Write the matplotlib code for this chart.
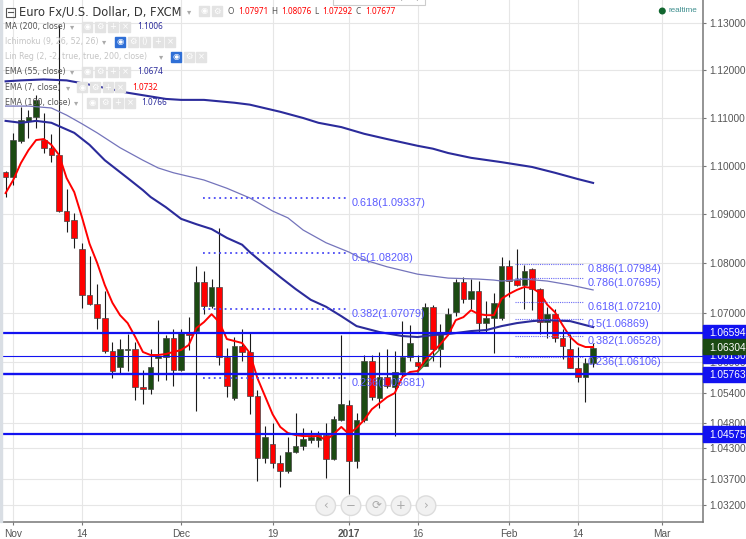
# Euro Fx / U.S. Dollar daily candles with EMAs, fib levels and price lines
import matplotlib
matplotlib.use("Agg")
import matplotlib.pyplot as plt
from matplotlib.patches import Rectangle, Circle
from matplotlib.ticker import NullLocator

# one row per trading day, index is the candle position
opens = [1.0988, 1.0977, 1.1052, 1.1094, 1.1102, 1.1054, 1.1038, 1.1023, 1.0907, 1.0889,
         1.0829, 1.0736, 1.0718, 1.0689, 1.0623, 1.0591, 1.0625, 1.0627, 1.0551, 1.0547,
         1.0609, 1.0611, 1.0649, 1.0585, 1.0659, 1.0663, 1.0762, 1.0714, 1.0752, 1.0611,
         1.0529, 1.0633, 1.0621, 1.0533, 1.0411, 1.0439, 1.0401, 1.0385, 1.0423, 1.0435,
         1.0446, 1.0446, 1.0456, 1.0409, 1.0486, 1.0515, 1.0405, 1.0486, 1.0603, 1.0529,
         1.0571, 1.0551, 1.0581, 1.0611, 1.0601, 1.0593, 1.0712, 1.0627, 1.0661, 1.0701,
         1.0762, 1.0728, 1.0744, 1.0679, 1.0689, 1.0689, 1.0795, 1.0766, 1.0756, 1.0789,
         1.0748, 1.0681, 1.0697, 1.0649, 1.0627, 1.0589, 1.0571, 1.0599]
highs = [1.0990, 1.1069, 1.1123, 1.1117, 1.1149, 1.1111, 1.1067, 1.1296, 1.0952, 1.0903,
         1.0842, 1.0815, 1.0758, 1.0744, 1.0641, 1.0647, 1.0657, 1.0641, 1.0585, 1.0627,
         1.0685, 1.0655, 1.0667, 1.0667, 1.0691, 1.0795, 1.0785, 1.0768, 1.0872, 1.0629,
         1.0651, 1.0667, 1.0661, 1.0545, 1.0474, 1.0480, 1.0417, 1.0452, 1.0499, 1.0470,
         1.0466, 1.0464, 1.0480, 1.0494, 1.0655, 1.0525, 1.0499, 1.0615, 1.0615, 1.0621,
         1.0627, 1.0623, 1.0683, 1.0675, 1.0615, 1.0720, 1.0716, 1.0677, 1.0710, 1.0768,
         1.0772, 1.0768, 1.0764, 1.0724, 1.0740, 1.0813, 1.0807, 1.0829, 1.0797, 1.0791,
         1.0750, 1.0712, 1.0707, 1.0667, 1.0657, 1.0631, 1.0609, 1.0639]
lows = [1.0936, 1.0961, 1.1048, 1.1058, 1.1079, 1.1027, 1.1008, 1.0905, 1.0864, 1.0831,
        1.0710, 1.0716, 1.0667, 1.0619, 1.0569, 1.0577, 1.0583, 1.0525, 1.0517, 1.0537,
        1.0563, 1.0565, 1.0553, 1.0583, 1.0625, 1.0503, 1.0697, 1.0710, 1.0595, 1.0531,
        1.0525, 1.0603, 1.0497, 1.0366, 1.0401, 1.0391, 1.0354, 1.0381, 1.0421, 1.0427,
        1.0441, 1.0433, 1.0372, 1.0407, 1.0484, 1.0340, 1.0391, 1.0482, 1.0525, 1.0509,
        1.0549, 1.0454, 1.0573, 1.0603, 1.0581, 1.0593, 1.0603, 1.0591, 1.0659, 1.0693,
        1.0720, 1.0707, 1.0659, 1.0659, 1.0619, 1.0685, 1.0732, 1.0754, 1.0707, 1.0705,
        1.0657, 1.0649, 1.0641, 1.0607, 1.0589, 1.0561, 1.0521, 1.0591]
closes = [1.0977, 1.1054, 1.1096, 1.1102, 1.1138, 1.1038, 1.1023, 1.0907, 1.0887, 1.0852,
          1.0736, 1.0718, 1.0689, 1.0623, 1.0583, 1.0627, 1.0627, 1.0551, 1.0547, 1.0591,
          1.0613, 1.0649, 1.0585, 1.0659, 1.0656, 1.0762, 1.0714, 1.0752, 1.0611, 1.0553,
          1.0633, 1.0621, 1.0533, 1.0411, 1.0452, 1.0401, 1.0385, 1.0423, 1.0435, 1.0448,
          1.0452, 1.0456, 1.0409, 1.0488, 1.0517, 1.0405, 1.0486, 1.0603, 1.0531, 1.0571,
          1.0553, 1.0581, 1.0611, 1.0639, 1.0593, 1.0712, 1.0627, 1.0661, 1.0697, 1.0762,
          1.0728, 1.0744, 1.0679, 1.0689, 1.0720, 1.0795, 1.0764, 1.0756, 1.0785, 1.0748,
          1.0681, 1.0697, 1.0649, 1.0633, 1.0589, 1.0571, 1.0599, 1.0630]

ema7 = [1.0944, 1.0971, 1.1006, 1.1033, 1.1054, 1.1056, 1.1044, 1.1023, 1.0975, 1.0946,
        1.0895, 1.0840, 1.0801, 1.0756, 1.0720, 1.0695, 1.0679, 1.0651, 1.0621, 1.0615,
        1.0615, 1.0617, 1.0621, 1.0625, 1.0635, 1.0669, 1.0681, 1.0697, 1.0681, 1.0647,
        1.0643, 1.0639, 1.0619, 1.0569, 1.0533, 1.0497, 1.0472, 1.0460, 1.0456, 1.0454,
        1.0454, 1.0454, 1.0446, 1.0458, 1.0472, 1.0458, 1.0470, 1.0486, 1.0507, 1.0519,
        1.0531, 1.0539, 1.0571, 1.0581, 1.0583, 1.0605, 1.0621, 1.0637, 1.0655, 1.0685,
        1.0691, 1.0705, 1.0697, 1.0695, 1.0695, 1.0728, 1.0738, 1.0746, 1.0752, 1.0750,
        1.0740, 1.0716, 1.0701, 1.0675, 1.0651, 1.0637, 1.0631, 1.0631]

ema55_days = [0, 2, 4, 6, 7, 9, 11, 13, 16, 18, 19, 21, 23, 25, 27, 29, 31, 32, 34, 36,
              38, 40, 42, 44, 46, 47, 49, 52, 54, 56, 58, 61, 63, 65, 67, 69, 71, 74, 77]
ema55 = [1.1094, 1.1090, 1.1094, 1.1090, 1.1083, 1.1069, 1.1044, 1.1012, 1.0975, 1.0950,
         1.0936, 1.0915, 1.0891, 1.0880, 1.0870, 1.0852, 1.0838, 1.0823, 1.0797, 1.0772,
         1.0748, 1.0726, 1.0712, 1.0693, 1.0673, 1.0669, 1.0661, 1.0653, 1.0651, 1.0655,
         1.0657, 1.0663, 1.0665, 1.0673, 1.0679, 1.0683, 1.0685, 1.0683, 1.0671]

ema100_days = [0, 3, 6, 8, 10, 12, 15, 18, 20, 22, 26, 29, 32, 35, 37, 39, 42, 45, 47, 50,
               54, 58, 62, 64, 65, 68, 71, 74, 77]
ema100 = [1.1125, 1.1125, 1.1121, 1.1106, 1.1088, 1.1069, 1.1038, 1.1012, 1.0996, 1.0986,
          1.0971, 1.0954, 1.0934, 1.0907, 1.0893, 1.0868, 1.0842, 1.0823, 1.0807, 1.0793,
          1.0778, 1.0770, 1.0768, 1.0766, 1.0764, 1.0768, 1.0764, 1.0756, 1.0746]

ma200_days = [0, 2, 5, 8, 11, 16, 21, 23, 26, 30, 32, 36, 39, 41, 44, 47, 50, 54, 56, 58,
              61, 65, 69, 72, 75, 77]
ma200 = [1.1177, 1.1179, 1.1181, 1.1179, 1.1170, 1.1153, 1.1140, 1.1138, 1.1138, 1.1132,
         1.1128, 1.1113, 1.1100, 1.1090, 1.1081, 1.1067, 1.1056, 1.1042, 1.1036, 1.1027,
         1.1017, 1.1008, 1.0998, 1.0986, 1.0973, 1.0965]

# short green segment next to the red line in January
linreg_days = [54, 57]
linreg = [1.0581, 1.0627]

# horizontal price lines
price_levels = [1.06594, 1.06130, 1.05763, 1.04575]
level_widths = [1.6, 0.8, 1.7, 1.6]
last_price = 1.06304

# fib retracement levels
fib_left = [("0.618", 1.09337), ("0.5", 1.08208), ("0.382", 1.07079), ("0.236", 1.05681)]
fib_right = [("0.886", 1.07984), ("0.786", 1.07695), ("0.618", 1.07210),
             ("0.5", 1.06869), ("0.382", 1.06528), ("0.236", 1.06106)]

y_ticks = [1.13, 1.12, 1.11, 1.10, 1.09, 1.08, 1.07, 1.06, 1.054, 1.048, 1.043, 1.037, 1.032]
x_ticks = [1, 10, 23, 35, 45, 54, 66, 75, 86]
x_labels = ["Nov", "14", "Dec", "19", "2017", "16", "Feb", "14", "Mar"]

W, H = 746, 539
RED = "#ff0000"
GREEN = "#1b4a12"
BLUE = "#1212f0"
NAVY = "#2b2b9b"
GRID = "#e6e6e6"
FIB = "#5a5aff"

plt.rcParams["font.family"] = ["Liberation Sans", "DejaVu Sans"]

fig = plt.figure(figsize=(W / 100, H / 100), dpi=100)
ax = fig.add_axes([2 / W, (H - 521.7) / H, 700.5 / W, 521.7 / H])
ax.set_yscale("log")
ax.set_xlim(-0.47, 91.34)
ax.set_ylim(1.02866, 1.13497)
ax.set_axisbelow(True)

# candles
for i in range(len(opens)):
    up = closes[i] >= opens[i]
    ax.vlines(i, lows[i], highs[i], color="#1a1a1a", lw=0.8, zorder=3)
    ax.bar(i, abs(closes[i] - opens[i]), bottom=min(opens[i], closes[i]), width=0.74,
           color=GREEN if up else RED, edgecolor="#444444", linewidth=0.5, zorder=4)

# moving averages
ax.plot(ma200_days, ma200, color=NAVY, lw=1.5, zorder=5)
ax.plot(ema55_days, ema55, color=NAVY, lw=1.5, zorder=5)
ax.plot(ema100_days, ema100, color="#7474bb", lw=0.9, zorder=5)
ax.plot(linreg_days, linreg, color="#3f7f3a", lw=1, zorder=5)
ax.plot(range(len(ema7)), ema7, color=RED, lw=1.4, zorder=6)

# price lines
for level, width in zip(price_levels, level_widths):
    ax.axhline(level, color=BLUE, lw=width, zorder=7)

# fib levels
for name, value in fib_left:
    ax.plot([25.9, 44.9], [value, value], color="#4a4af5", lw=1.3, ls=(0, (1, 2)), zorder=7)
    ax.annotate(f"{name}({value:.5f})", (45.4, value), xytext=(0, -3.6),
                textcoords="offset points", color=FIB, fontsize=7.8, va="center", zorder=8)
for name, value in fib_right:
    ax.plot([66.8, 75.7], [value, value], color="#6a6af5", lw=0.8, ls=(0, (1, 1)), zorder=7)
    ax.annotate(f"{name}({value:.5f})", (76.3, value), xytext=(0, -3.6),
                textcoords="offset points", color=FIB, fontsize=7.8, va="center", zorder=8)

# axes styling
ax.grid(True, color=GRID, lw=0.8)
ax.yaxis.tick_right()
ax.yaxis.set_minor_locator(NullLocator())
ax.set_yticks(y_ticks, [f"{v:.5f}" for v in y_ticks])
ax.set_xticks(x_ticks, x_labels)
ax.tick_params(axis="both", length=2.5, width=0.8, color="#777777", labelcolor="#555555",
               labelsize=7.3, pad=2.5)
ax.xaxis.set_minor_locator(NullLocator())
for label in ax.get_xticklabels():
    if label.get_text() == "2017":
        label.set_fontweight("bold")
ax.spines["top"].set_visible(False)
ax.spines["left"].set_visible(False)
ax.spines["right"].set_color("#777777")
ax.spines["bottom"].set_color("#777777")
ax.spines["right"].set_linewidth(1.1)
ax.spines["bottom"].set_linewidth(1.1)

# overlay in image pixels for the platform chrome
ui = fig.add_axes([0, 0, 1, 1], facecolor="none")
ui.set_xlim(0, W)
ui.set_ylim(H, 0)
ui.axis("off")
ui.add_patch(Rectangle((0, 0), 2, 522, color="#d9dee4", zorder=1))


def price_px(value):
    return H - ax.transData.transform((0, value))[1]


def price_box(value, color, top, bottom, z):
    ui.add_patch(Rectangle((703, top), 43, bottom - top, color=color, zorder=z))
    ui.text(709, price_px(value) + 0.3, f"{value:.5f}", color="white", fontsize=7.3,
            va="center", zorder=z + 1)


price_box(1.06594, BLUE, 325, 338, 3)
price_box(1.06130, BLUE, 349, 363, 3)
price_box(last_price, GREEN, 339, 354, 5)
price_box(1.05763, BLUE, 367, 382, 3)
price_box(1.04575, BLUE, 426, 442, 3)


def icon(x, y, glyph, active=False):
    ui.add_patch(Rectangle((x - 5, y - 5), 10, 10, color="#2f6fd6" if active else "#e3e3e3", zorder=3))
    ui.text(x, y, glyph, color="white", fontsize=6, ha="center", va="center",
            family="DejaVu Sans", zorder=4)


def legend_row(y, label, label_color, arrow_x, icons, value=None, value_x=0, value_color=None):
    ui.text(5, y, label, color=label_color, fontsize=5.7, va="center", family="DejaVu Sans", zorder=3)
    ui.text(arrow_x, y, "\u25be", color="#aaaaaa", fontsize=6, ha="center", va="center",
            family="DejaVu Sans", zorder=3)
    for x, glyph, active in icons:
        icon(x, y, glyph, active)
    if value:
        ui.text(value_x, y, value, color=value_color, fontsize=5.9, va="center",
                family="Noto Sans", zorder=3)


def four_icons(x0):
    return [(x0, "\u25c9", False), (x0 + 13, "\u2699", False), (x0 + 25.5, "+", False), (x0 + 38, "\u00d7", False)]


# title row
ui.add_patch(Rectangle((5.5, 7.5), 9, 9, fc="none", ec="#555555", lw=0.8, zorder=3))
ui.plot([7.5, 12.5], [12, 12], color="#555555", lw=0.8, zorder=3)
ui.text(19, 12, "Euro Fx/U.S. Dollar, D, FXCM", color="#333333", fontsize=8.3, va="center",
        family="DejaVu Sans", zorder=3)
ui.text(189, 12, "\u25be", color="#aaaaaa", fontsize=6, ha="center", va="center",
        family="DejaVu Sans", zorder=3)
icon(204, 11, "\u25c9")
icon(217, 11, "\u2699")
for x, letter, number_x, number in [(228, "O", 238, "1.07971"), (271, "H", 281, "1.08076"),
                                    (314, "L", 322.7, "1.07292"), (355, "C", 365, "1.07677")]:
    ui.text(x, 11.5, letter, color="#555555", fontsize=5.9, va="center", family="Noto Sans", zorder=3)
    ui.text(number_x, 11.5, number, color=RED, fontsize=5.9, va="center", family="Noto Sans", zorder=3)

# indicator legend
legend_row(26.7, "MA (200, close)", "#555555", 72, four_icons(87), "1.1006", 137, NAVY)
legend_row(41.7, "Ichimoku (9, 26, 52, 26)", "#c4c4c4", 104,
           [(120, "\u25c9", True), (133, "\u2699", False), (145, "()", False), (158, "+", False), (170, "\u00d7", False)])
legend_row(56.7, "Lin Reg (2, -2, true, true, 200, close)", "#c4c4c4", 161,
           [(176, "\u25c9", True), (189, "\u2699", False), (201, "\u00d7", False)])
legend_row(71.7, "EMA (55, close)", "#555555", 72, four_icons(87), "1.0674", 137, NAVY)
legend_row(87.3, "EMA (7, close)", "#555555", 68, four_icons(82), "1.0732", 132, RED)
legend_row(102.7, "EMA (100, close)", "#555555", 76, four_icons(92), "1.0766", 141, NAVY)

# realtime marker and clipped tooltip
ui.add_patch(Circle((662.3, 11), 2.8, color="#11662f", zorder=3))
ui.text(668.6, 11, "realtime", color="#3f8f8f", fontsize=5.9, va="center", zorder=3)
ui.add_patch(Rectangle((333, -4), 92, 9, fc="white", ec="#cccccc", lw=0.8, zorder=8))
ui.text(337, 2, "Exit Full Screen (Esc)", color="#888888", fontsize=5.7, va="bottom",
        family="DejaVu Sans", zorder=9, clip_on=True)

# navigation buttons under the chart
for x, glyph in zip([325.7, 351, 376, 401, 426], ["\u2039", "\u2212", "\u27f3", "+", "\u203a"]):
    ui.add_patch(Circle((x, 505.7), 9.8, fc="#f1f1f1", ec="#dcdcdc", lw=1, zorder=9))
    ui.text(x, 505.4, glyph, color="#aaaaaa", fontsize=8.5, ha="center", va="center",
            family="DejaVu Sans", zorder=10)

fig.savefig("out.png", dpi=100)
